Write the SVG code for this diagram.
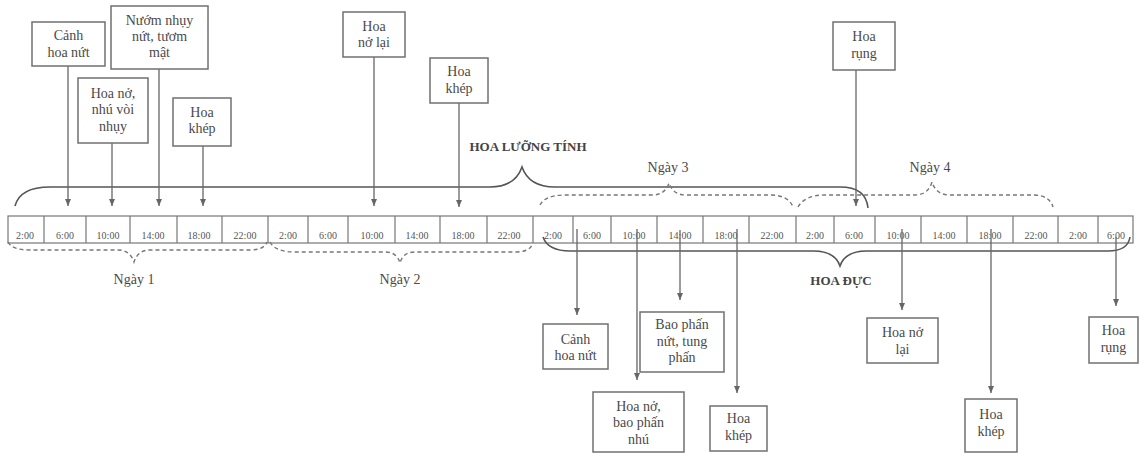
<svg xmlns="http://www.w3.org/2000/svg" width="1140" height="453" viewBox="0 0 1140 453">
<style>
.box{fill:#fff;stroke:#707070;stroke-width:1.5}
.t{font-family:"Liberation Serif","DejaVu Serif",serif;font-size:14px;fill:#4a4a4a;text-anchor:middle}
.tm{font-family:"Liberation Serif","DejaVu Serif",serif;font-size:10px;fill:#555;text-anchor:middle}
.b{font-family:"Liberation Serif","DejaVu Serif",serif;font-size:13px;font-weight:bold;fill:#444;text-anchor:middle}
.arr{stroke:#666;stroke-width:1.3;fill:none;marker-end:url(#ah)}
.br{stroke:#555;stroke-width:1.6;fill:none}
.dbr{stroke:#777;stroke-width:1.4;fill:none;stroke-dasharray:4 3}
.grid{stroke:#777;stroke-width:1.2;fill:none}
</style>
<defs>
<marker id="ah" markerUnits="userSpaceOnUse" markerWidth="8" markerHeight="8" refX="7" refY="3.5" orient="auto">
<path d="M0,0.5 L7,3.5 L0,6.5 z" fill="#666"/>
</marker>
</defs>
<rect width="1140" height="453" fill="#fff"/>

<g id="timeline">
<rect class="grid" x="8" y="216" width="1125" height="27"/>
<path class="grid" d="M44 216V243M86 216V243M130 216V243M177 216V243M222 216V243M268 216V243M308 216V243M348 216V243M395 216V243M440 216V243M487 216V243M533 216V243M573 216V243M611 216V243M657 216V243M703 216V243M749 216V243M796 216V243M834 216V243M875 216V243M921 216V243M967 216V243M1013 216V243M1058 216V243M1098 216V243"/>
<g>
<text class="tm" x="25" y="239">2:00</text>
<text class="tm" x="65" y="239">6:00</text>
<text class="tm" x="108" y="239">10:00</text>
<text class="tm" x="153" y="239">14:00</text>
<text class="tm" x="199" y="239">18:00</text>
<text class="tm" x="245" y="239">22:00</text>
<text class="tm" x="288" y="239">2:00</text>
<text class="tm" x="328" y="239">6:00</text>
<text class="tm" x="372" y="239">10:00</text>
<text class="tm" x="417" y="239">14:00</text>
<text class="tm" x="463" y="239">18:00</text>
<text class="tm" x="509" y="239">22:00</text>
<text class="tm" x="553" y="239">2:00</text>
<text class="tm" x="592" y="239">6:00</text>
<text class="tm" x="634" y="239">10:00</text>
<text class="tm" x="680" y="239">14:00</text>
<text class="tm" x="726" y="239">18:00</text>
<text class="tm" x="772" y="239">22:00</text>
<text class="tm" x="815" y="239">2:00</text>
<text class="tm" x="854" y="239">6:00</text>
<text class="tm" x="898" y="239">10:00</text>
<text class="tm" x="944" y="239">14:00</text>
<text class="tm" x="990" y="239">18:00</text>
<text class="tm" x="1036" y="239">22:00</text>
<text class="tm" x="1078" y="239">2:00</text>
<text class="tm" x="1116" y="239">6:00</text>
</g>
</g>

<g id="braces">
<path class="br" d="M15 206 Q20 187 50 187 L490 187 Q515 187 522 167 Q529 187 555 187 L840 187 Q866 187 868 208"/>
<text class="b" x="528" y="151">HOA LƯỠNG TÍNH</text>
<path class="br" d="M543 237 Q548 251 570 251 L813 251 Q835 251 840 266 Q845 251 867 251 L1108 251 Q1128 251 1130 237"/>
<text class="b" x="841" y="285">HOA ĐỰC</text>
<path class="dbr" d="M8 242 Q12 250 30 250 L118 250 Q130 250 134 262 Q138 250 150 250 L250 250 Q264 250 267 242"/>
<path class="dbr" d="M270 242 Q275 252 295 252 L385 252 Q397 252 400 263 Q403 252 415 252 L515 252 Q529 252 532 245"/>
<path class="dbr" d="M540 205 Q545 195 565 195 L652 195 Q665 195 669 183 Q673 195 686 195 L772 195 Q789 196 793 207"/>
<path class="dbr" d="M798 207 Q805 195 825 195 L915 195 Q928 195 932 182 Q936 195 950 195 L1035 195 Q1050 196 1053 207"/>
<text class="t" x="134" y="284">Ngày 1</text>
<text class="t" x="400" y="284">Ngày 2</text>
<text class="t" x="668" y="172">Ngày 3</text>
<text class="t" x="930" y="172">Ngày 4</text>
</g>

<g id="connectors">
<path class="arr" d="M68 66V206"/>
<path class="arr" d="M112 143V206"/>
<path class="arr" d="M159 69V206"/>
<path class="arr" d="M203 146V206"/>
<path class="arr" d="M374 57V206"/>
<path class="arr" d="M459 103V207"/>
<path class="arr" d="M856 70V206"/>
<path class="arr" d="M577 229V315"/>
<path class="arr" d="M637 229V380"/>
<path class="arr" d="M680 230V300"/>
<path class="arr" d="M737 229V393"/>
<path class="arr" d="M902 229V310"/>
<path class="arr" d="M991 229V393"/>
<path class="arr" d="M1116 237V306"/>
</g>

<g id="n1"><rect class="box" x="32" y="22" width="73" height="44"/><text class="t" x="68.5" y="40">Cảnh</text><text class="t" x="68.5" y="57">hoa nứt</text></g>
<g id="n2"><rect class="box" x="111" y="6" width="97" height="63"/><text class="t" x="159.5" y="25">Nướm nhụy</text><text class="t" x="159.5" y="41">nứt, tươm</text><text class="t" x="159.5" y="57">mật</text></g>
<g id="n3"><rect class="box" x="78" y="78" width="70" height="65"/><text class="t" x="113" y="98">Hoa nở,</text><text class="t" x="113" y="114">nhú vòi</text><text class="t" x="113" y="131">nhụy</text></g>
<g id="n4"><rect class="box" x="173" y="98" width="58" height="48"/><text class="t" x="202" y="117">Hoa</text><text class="t" x="202" y="133">khép</text></g>
<g id="n5"><rect class="box" x="343" y="12" width="62" height="45"/><text class="t" x="374" y="31">Hoa</text><text class="t" x="374" y="47">nở lại</text></g>
<g id="n6"><rect class="box" x="430" y="58" width="58" height="45"/><text class="t" x="459" y="76">Hoa</text><text class="t" x="459" y="93">khép</text></g>
<g id="n7"><rect class="box" x="833" y="22" width="62" height="48"/><text class="t" x="864" y="41">Hoa</text><text class="t" x="864" y="58">rụng</text></g>
<g id="n8"><rect class="box" x="543" y="324" width="65" height="45"/><text class="t" x="575.5" y="344">Cảnh</text><text class="t" x="575.5" y="360">hoa nứt</text></g>
<g id="n9"><rect class="box" x="640" y="312" width="84" height="60"/><text class="t" x="682" y="329">Bao phấn</text><text class="t" x="682" y="346">nứt, tung</text><text class="t" x="682" y="362">phấn</text></g>
<g id="n10"><rect class="box" x="593" y="392" width="91" height="60"/><text class="t" x="638.5" y="411">Hoa nở,</text><text class="t" x="638.5" y="427">bao phấn</text><text class="t" x="638.5" y="444">nhú</text></g>
<g id="n11"><rect class="box" x="710" y="406" width="57" height="45"/><text class="t" x="738.5" y="423">Hoa</text><text class="t" x="738.5" y="440">khép</text></g>
<g id="n12"><rect class="box" x="867" y="318" width="71" height="45"/><text class="t" x="902.5" y="337">Hoa nở</text><text class="t" x="902.5" y="354">lại</text></g>
<g id="n13"><rect class="box" x="965" y="399" width="52" height="53"/><text class="t" x="991" y="419">Hoa</text><text class="t" x="991" y="436">khép</text></g>
<g id="n14"><rect class="box" x="1089" y="317" width="49" height="46"/><text class="t" x="1113.5" y="335">Hoa</text><text class="t" x="1113.5" y="352">rụng</text></g>
</svg>
